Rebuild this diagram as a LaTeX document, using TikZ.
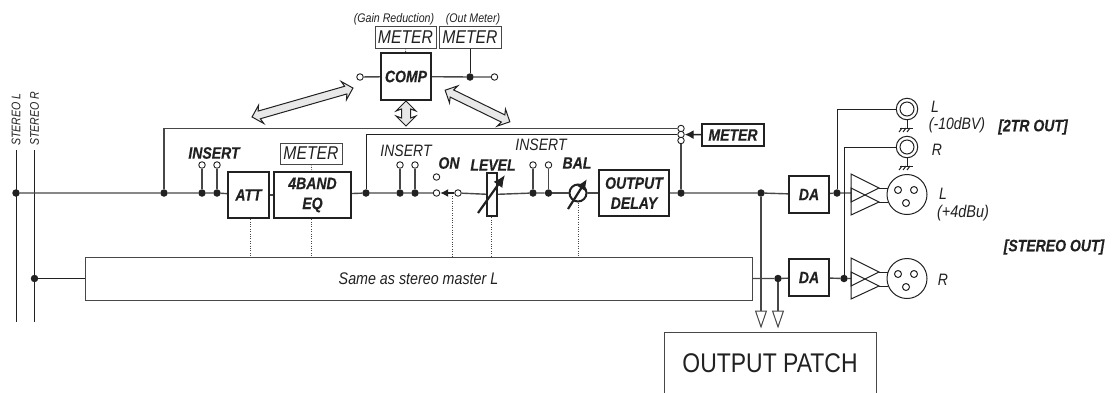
\documentclass[tikz,border=0pt]{standalone}
\usepackage{fontspec}
\setmainfont[FakeStretch=0.85,BoldItalicFeatures={FakeBold=0.35}]{Liberation Sans}
\usetikzlibrary{arrows.meta,shapes.arrows}
\definecolor{wirec}{gray}{.28}
\definecolor{inkc}{gray}{.13}
\tikzset{
  wire/.style={line width=1.4pt,wirec},
  hair/.style={line width=1pt,inkc},
  dots/.style={line width=.9pt,wirec,dash pattern=on .9pt off 1.5pt},
  jn/.style={circle,fill=inkc,inner sep=0,minimum size=7.5pt},
  term/.style={circle,draw=inkc,fill=white,line width=.9pt,inner sep=0,minimum size=6.5pt},
  hvbox/.style={draw=inkc,line width=2.4pt,fill=white,inner sep=0,align=center,text=inkc,
    font=\fontsize{16.5}{20}\selectfont\bfseries\itshape},
  metbox/.style={draw=wirec,line width=1pt,fill=white,inner sep=0,text=inkc,minimum height=22pt,
    font=\fontsize{18.5}{20}\selectfont\itshape},
  thn/.style={inner sep=0,text=inkc,font=\fontsize{16.5}{18}\selectfont\itshape},
  bld/.style={inner sep=0,text=inkc,font=\fontsize{16.5}{18}\selectfont\bfseries\itshape},
  sml/.style={inner sep=0,text=inkc,font=\fontsize{12.5}{14}\selectfont\itshape},
  twin/.style={shape=double arrow,draw=inkc,fill=gray!18,line width=1pt,inner xsep=0,inner ysep=3.5pt,
    double arrow head extend=5.5pt,double arrow head indent=2pt},
  jack/.style={circle,draw=inkc,line width=1pt,fill=white,inner sep=0,minimum size=21.5pt},
  xlrc/.style={circle,draw=inkc,line width=1pt,fill=white,inner sep=0,minimum size=40pt},
  outtip/.style={-{Triangle[open,length=18pt,width=12pt,line width=1pt]},shorten >=3pt}
}
\begin{document}
\begin{tikzpicture}[x=1pt,y=-1pt]
\useasboundingbox(0,0)rectangle(1114,392);
% buses
\coordinate(ltop)at(16,150);\coordinate(lbot)at(16,322);
\coordinate(rtop)at(34.5,150);\coordinate(rbot)at(34.5,322);
\draw[hair](ltop)--(lbot);\draw[hair](rtop)--(rbot);
\node[sml,rotate=90,anchor=west]at(16,146){STEREO L};
\node[sml,rotate=90,anchor=west]at(34.5,146){STEREO R};
% blocks
\node[hvbox,minimum width=41pt,minimum height=46pt](att)at(248.5,195){ATT};
\node[hvbox,minimum width=77pt,minimum height=46pt](eq)at(312.5,195){4BAND\\EQ};
\node[hvbox,minimum width=50pt,minimum height=47pt](comp)at(406,76.5){COMP};
\node[hvbox,minimum width=10pt,minimum height=43pt,fill=none](level)at(492,194.5){};
\node[hvbox,minimum width=70pt,minimum height=46pt](delay)at(634,193){OUTPUT\\DELAY};
\node[hvbox,minimum width=40pt,minimum height=37pt](dal)at(809,194.5){DA};
\node[hvbox,minimum width=40pt,minimum height=37pt](dar)at(809,277.5){DA};
\node[hvbox,minimum width=62pt,minimum height=22pt](metout)at(733,135){METER};
\node[metbox,minimum width=61pt](metgr)at(405.5,37){METER};
\node[metbox,minimum width=62pt](metol)at(470,37){METER};
\node[metbox,minimum width=62pt,minimum height=21pt](meteq)at(311,153.5){METER};
\node[metbox,minimum width=667pt,minimum height=43pt,font=\fontsize{16.8}{18}\selectfont\itshape](same)at(418.5,278.5){Same as stereo master L};
\node[draw=wirec,line width=1pt,inner sep=0,text=inkc,minimum width=212pt,minimum height=62pt,font=\fontsize{27}{30}\selectfont](patch)at(770,363){OUTPUT PATCH};
% junctions and terminals
\foreach \n/\x/\y in {a/16/193,b/164/193,c/202/193,d/217/193,e/366/193,f/400/193,g/415/193,
  h/533/193,i/548.5/193,j/681/193,k/761/193,l/837/193,m/34.5/278.5,n/778/278.5,o/844/278.5,p/470/77}
  \node[jn](\n)at(\x,\y){};
\foreach \n/\x/\y in {ta/202/165,tb/217/165,tc/400/165,td/415/165,te/533/165,tf/548.5/165,
  tg/436.5/177,th/436.5/193,ti/458/193,tj/360/77,tk/494.5/77,tl/681/128.5,tm/681/134.5,tn/681/140.5}
  \node[term](\n)at(\x,\y){};
% main line
\draw[wire](a)--(b)--(c)--(d)--(att);\draw[wire](att)--(eq);\draw[wire](eq)--(e)--(f)--(g)--(th);
\draw[wire](ti)--(level)--(h)--(i)--(delay);\draw[wire](delay)--(j)--(k)--(dal);\draw[wire](dal)--(l)--(851,193);
\draw[wire](same)--(n)--(dar);\draw[wire](dar)--(o)--(851,278.5);\draw[hair](m)--(same);
\foreach \u/\v in {c/ta,d/tb,f/tc,g/td,h/te,i/tf}\draw[wire](\u)--(\v);
\draw[wire](b)|-(tl);\draw[hair](e)|-(tm);\draw[wire](j)--(tn);
% comp
\draw[wire](tj)--(comp);\draw[wire](comp)--(p)--(tk);\draw[hair](metol)--(p);
\draw[dots](metgr)--(comp);\draw[dots](meteq)--(eq);
% on switch, level, bal
\draw[inkc,line width=1.4pt,-{Latex[length=8pt,width=8pt]}](ti)--(th);
\node[circle,draw=inkc,line width=2pt,fill=white,inner sep=0,minimum size=17pt](bal)at(578,193){};
\draw[wire](i)--(bal);\draw[wire](bal)--(delay);
\draw[inkc,line width=2.2pt,-{Latex[length=12pt,width=11pt]}](478,213)--(505,175);
\draw[inkc,line width=2.2pt,-{Latex[length=11pt,width=10pt]}](568,209)--(587,179);
\draw[inkc,line width=1.4pt,-{Latex[length=9pt,width=9pt]}](metout)--(tm);
% remote arrows
\node[twin,minimum height=105pt,rotate=16](ctla)at(302.5,102.5){};
\node[twin,minimum height=72pt,rotate=-26](ctlb)at(477.5,106){};
\node[twin,minimum height=25pt,inner ysep=4pt,double arrow head extend=5.5pt,rotate=90](ctlc)at(406,113.5){};
% dotted links
\coordinate(qatt)at(250,257);\coordinate(qeq)at(311,257);\coordinate(qon)at(452,257);
\coordinate(qlev)at(491.7,257);\coordinate(qbal)at(578,257);
\draw[dots](att.south-|qatt)--(qatt);\draw[dots](eq.south-|qeq)--(qeq);\draw[dots](452,196)--(qon);
\draw[dots](level.south-|qlev)--(qlev);\draw[dots](bal.south-|qbal)--(qbal);
% to patch
\draw[wire,outtip](k)--(k|-patch.north);\draw[wire,outtip](n)--(n|-patch.north);
% outputs
\foreach \n/\y in {jl/109,jr/147}{
  \node[jack](\n)at(907,\y){};
  \node[circle,draw=inkc,line width=1pt,inner sep=0,minimum size=14pt]at(907,\y){};
  \draw[hair](\n)--(907,\y+19);\draw[hair](900,\y+19)--(913,\y+19);
  \foreach \s in {0,1,2}\draw[hair](902+\s*4,\y+19)--(899+\s*4,\y+23);
}
\draw[hair](l)|-(jl);\draw[hair](o)|-(jr);
\foreach \n/\y in {xl/194,xr/278}{
  \draw[hair](851,\y-20)--(879,\y-6)--(851,\y+8)--cycle;
  \draw[hair](851,\y-6)--(879,\y+8)--(851,\y+21)--cycle;
  \node[xlrc](\n)at(907,\y+.5){};
  \draw[hair](879,\y-6)--(888,\y-6);\draw[hair](879,\y+8)--(888,\y+8);
  \foreach \hx/\hy in {898/-4,914/-4,906/9}\draw[hair](\hx,\y+\hy)circle(3.5);
}
% labels
\node[bld]at(214,153){INSERT};
\node[thn]at(406,151){INSERT};
\node[thn]at(541,145){INSERT};
\node[bld]at(449,163){ON};
\node[bld]at(493,165){LEVEL};
\node[bld]at(577,163){BAL};
\node[sml]at(394,19){(Gain Reduction)};
\node[sml]at(473,19){(Out Meter)};
\node[thn]at(935,107){L};
\node[sml,font=\fontsize{16.5}{18}\selectfont\itshape]at(957,125){(-10dBV)};
\node[thn]at(937,150){R};
\node[thn]at(943,194){L};
\node[sml,font=\fontsize{17}{18}\selectfont\itshape]at(963,213){(+4dBu)};
\node[thn]at(943,280){R};
\node[bld]at(1033,127){[2TR OUT]};
\node[bld]at(1054,247){[STEREO OUT]};
\end{tikzpicture}
\end{document}
